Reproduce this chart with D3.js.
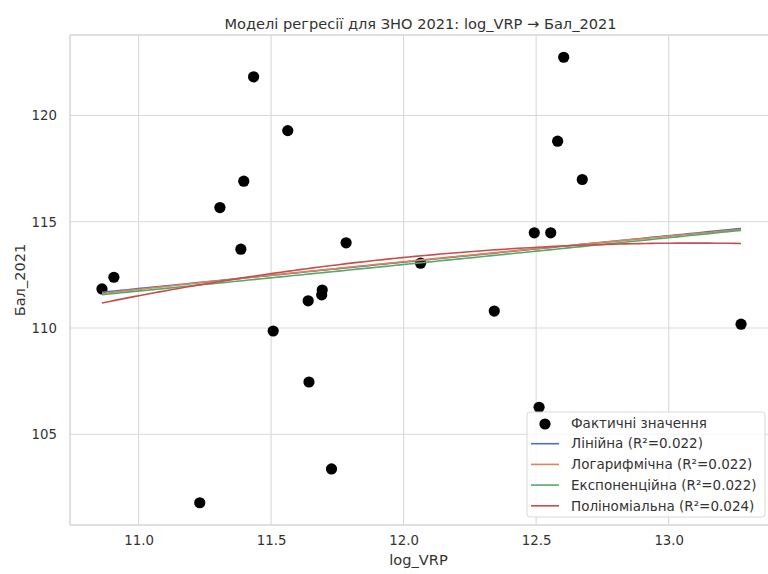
<!DOCTYPE html>
<html><head><meta charset="utf-8">
<script src="https://cdn.jsdelivr.net/npm/d3@7"></script>
<style>body{margin:0;background:#fff;}svg{display:block;font-family:"DejaVu Sans",sans-serif;}</style>
</head><body>
<svg id="chart" width="768" height="574"></svg>
<script>
const logVRP = [10.862,10.907,11.307,11.397,11.386,11.563,11.508,11.434,12.604,12.581,12.674,12.493,12.555,11.783,12.064,11.693,11.691,11.640,12.342,13.273,11.643,11.728,12.511,11.231];
const score2021 = [111.84,112.39,115.67,116.91,113.71,119.29,109.86,121.82,122.74,118.79,116.99,114.48,114.48,114.01,113.05,111.79,111.56,111.28,110.80,110.18,107.46,103.37,106.27,101.78];
const xTicks = [11.0,11.5,12.0,12.5,13.0];
const yTicks = [105,110,115,120];
const legendLabels = ["Фактичні значення","Лінійна (R²=0.022)","Логарифмічна (R²=0.022)","Експоненційна (R²=0.022)","Поліноміальна (R²=0.024)"];
const modelColors = ["#4c72b0","#dd8452","#55a868","#c44e52"];
const title = "Моделі регресії для ЗНО 2021: log_VRP → Бал_2021";

const svg = d3.select("#chart");
const L=70, T=35, R=773, B=525;
const pad=(a,b)=>{const r=b-a;return [a-0.05*r,b+0.05*r];};
const x = d3.scaleLinear().domain(pad(d3.min(logVRP),d3.max(logVRP))).range([L,R]);
const y = d3.scaleLinear().domain(pad(d3.min(score2021),d3.max(score2021))).range([B,T]);

// grid
svg.append("g").selectAll("line").data(xTicks).join("line")
  .attr("x1",d=>x(d)).attr("x2",d=>x(d)).attr("y1",T).attr("y2",B)
  .attr("stroke","#d9d9d9").attr("stroke-width",1.1);
svg.append("g").selectAll("line").data(yTicks).join("line")
  .attr("y1",d=>y(d)).attr("y2",d=>y(d)).attr("x1",L).attr("x2",R)
  .attr("stroke","#d9d9d9").attr("stroke-width",1.1);
svg.append("rect").attr("x",L).attr("y",T).attr("width",R-L).attr("height",B-T)
  .attr("fill","none").attr("stroke","#cccccc").attr("stroke-width",1.2);

// axes labels
const xa = d3.axisBottom(x).tickValues(xTicks).tickFormat(d3.format(".1f")).tickSize(0).tickPadding(11);
const gx = svg.append("g").attr("transform",`translate(0,${B})`).call(xa);
gx.select(".domain").remove();
gx.selectAll("text").attr("font-size",13.3).attr("fill","#333").attr("font-family","DejaVu Sans");
const ya = d3.axisLeft(y).tickValues(yTicks).tickSize(0).tickPadding(13);
const gy = svg.append("g").attr("transform",`translate(${L},0)`).call(ya);
gy.select(".domain").remove();
gy.selectAll("text").attr("font-size",13.3).attr("fill","#333").attr("font-family","DejaVu Sans");

svg.append("text").attr("x",(L+767)/2).attr("y",564.5).attr("text-anchor","middle")
  .attr("font-size",14.6).attr("fill","#333").text("log_VRP");
svg.append("text").attr("transform",`translate(25,${(T+B)/2}) rotate(-90)`).attr("text-anchor","middle")
  .attr("font-size",14.6).attr("fill","#333").text("Бал_2021");
svg.append("text").attr("x",(L+767)/2 + 2).attr("y",28.5).attr("text-anchor","middle")
  .attr("font-size",14.6).attr("fill","#333").text(title);

// fits
function linfit(xs,ys){const mx=d3.mean(xs),my=d3.mean(ys);let sxy=0,sxx=0;xs.forEach((v,i)=>{sxy+=(v-mx)*(ys[i]-my);sxx+=(v-mx)**2;});const b=sxy/sxx;return [my-b*mx,b];}
function polyfit2(xs,ys){
  const n=xs.length;const S=k=>d3.sum(xs,v=>v**k);const Sy=k=>d3.sum(xs.map((v,i)=>v**k*ys[i]));
  const A=[[n,S(1),S(2)],[S(1),S(2),S(3)],[S(2),S(3),S(4)]],bb=[Sy(0),Sy(1),Sy(2)];
  for(let i=0;i<3;i++){for(let j=i+1;j<3;j++){const f=A[j][i]/A[i][i];for(let k=i;k<3;k++)A[j][k]-=f*A[i][k];bb[j]-=f*bb[i];}}
  const c=[0,0,0];for(let i=2;i>=0;i--){let s=bb[i];for(let k=i+1;k<3;k++)s-=A[i][k]*c[k];c[i]=s/A[i][i];}return c;}
const lin=linfit(logVRP,score2021);
const lg=linfit(logVRP.map(Math.log),score2021);
const ex=linfit(logVRP,score2021.map(Math.log));
const pc=polyfit2(logVRP,score2021);
const models=[v=>lin[0]+lin[1]*v, v=>lg[0]+lg[1]*Math.log(v), v=>Math.exp(ex[0]+ex[1]*v), v=>pc[0]+pc[1]*v+pc[2]*v*v];
const xs=d3.range(0,101).map(i=>d3.min(logVRP)+(d3.max(logVRP)-d3.min(logVRP))*i/100);
const line=d3.line().x(d=>x(d[0])).y(d=>y(d[1]));

// points
svg.append("g").selectAll("circle").data(logVRP).join("circle")
  .attr("cx",d=>x(d)).attr("cy",(d,i)=>y(score2021[i])).attr("r",5.6).attr("fill","#000");

models.forEach((m,i)=>{
  svg.append("path").datum(xs.map(v=>[v,m(v)])).attr("d",line).attr("fill","none")
    .attr("stroke",modelColors[i]).attr("stroke-width",1.6);
});

// legend
const lg0 = svg.append("g");
lg0.append("rect").attr("x",527).attr("y",412).attr("width",238).attr("height",105).attr("rx",3)
  .attr("fill","#fff").attr("fill-opacity",0.8).attr("stroke","#d9d9d9");
legendLabels.forEach((t,i)=>{
  const yy=423+i*20.7;
  if(i===0) lg0.append("circle").attr("cx",545).attr("cy",yy+1).attr("r",5.6).attr("fill","#000");
  else lg0.append("line").attr("x1",531).attr("x2",559).attr("y1",yy).attr("y2",yy).attr("stroke",modelColors[i-1]).attr("stroke-width",1.6);
  lg0.append("text").attr("x",571).attr("y",yy).attr("dy","0.35em").attr("font-size",13.5).attr("fill","#333").text(t);
});
</script>
</body></html>
